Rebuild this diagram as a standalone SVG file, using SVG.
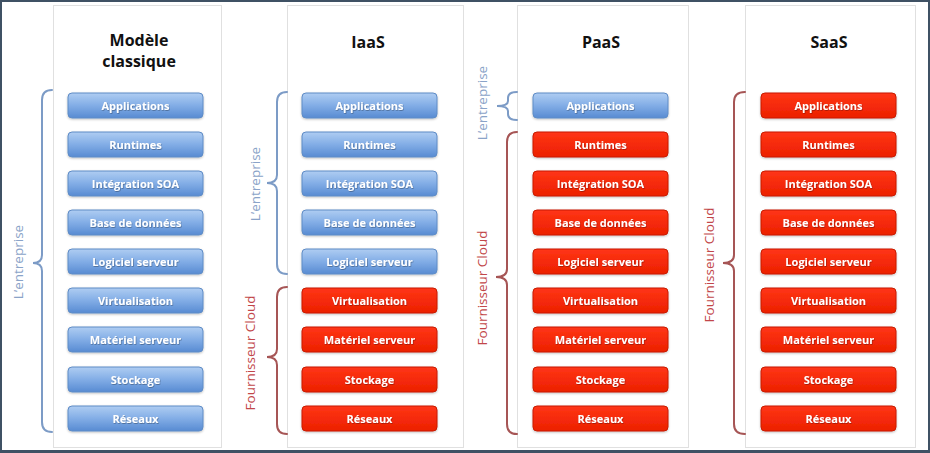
<svg xmlns="http://www.w3.org/2000/svg" width="930" height="453" viewBox="0 0 930 453">
<defs>
<linearGradient id="gBlue" x1="0" y1="0" x2="0" y2="1">
<stop offset="0" stop-color="#afcdf2"/>
<stop offset="0.5" stop-color="#82ade6"/>
<stop offset="1" stop-color="#588bd2"/>
</linearGradient>
<linearGradient id="gRed" x1="0" y1="0" x2="0" y2="1">
<stop offset="0" stop-color="#ff3516"/>
<stop offset="1" stop-color="#ec2000"/>
</linearGradient>
<filter id="ts" x="-10%" y="-30%" width="120%" height="160%">
<feDropShadow dx="0.6" dy="0.8" stdDeviation="0.5" flood-color="#000" flood-opacity="0.35"/>
</filter>
<filter id="bs" x="-5%" y="-20%" width="110%" height="150%">
<feDropShadow dx="0" dy="1" stdDeviation="0.8" flood-color="#000" flood-opacity="0.25"/>
</filter>
</defs>
<style>
.panel{fill:#ffffff;stroke:#e0e0e0;stroke-width:1}
.blue{fill:url(#gBlue);stroke:#5f8cc6;stroke-width:1;filter:url(#bs)}
.red{fill:url(#gRed);stroke:#c81c00;stroke-width:1;filter:url(#bs)}
.lbl{font-family:"Open Sans","Liberation Sans",sans-serif;font-weight:700;font-size:11px;fill:#ffffff;text-anchor:middle;filter:url(#ts)}
.title{font-family:"Open Sans","Liberation Sans",sans-serif;font-weight:700;font-size:16px;fill:#111111;text-anchor:middle}
.bb{fill:none;stroke:#7c9bc6;stroke-width:2;stroke-linecap:round}
.rb{fill:none;stroke:#a65555;stroke-width:2;stroke-linecap:round}
.ent{font-family:"Open Sans","Liberation Sans",sans-serif;font-size:13.5px;fill:#8aa3c8;text-anchor:middle}
.four{font-family:"Open Sans","Liberation Sans",sans-serif;font-size:13.5px;fill:#c2474a;text-anchor:middle}
</style>
<rect x="0" y="0" width="930" height="453" fill="#ffffff"/>
<g id="panels">
<rect class="panel" x="53.5" y="5.5" width="168" height="442"/>
<rect class="panel" x="287.5" y="5.5" width="176" height="442"/>
<rect class="panel" x="517.5" y="5.5" width="171" height="442"/>
<rect class="panel" x="745.5" y="5.5" width="170" height="442"/>
</g>
<g id="titles">
<text class="title" x="139" y="46">Modèle</text>
<text class="title" x="139" y="67">classique</text>
<text class="title" x="368" y="48">IaaS</text>
<text class="title" x="601" y="48">PaaS</text>
<text class="title" x="829" y="48">SaaS</text>
</g>
<g id="connectors">
<path class="bb" d="M52,90 Q42,90 42,100 L42,255 Q42,263 33,263 Q42,263 42,271 L42,422 Q42,432 52,432"/>
<path class="bb" d="M287,92 Q277,92 277,102 L277,175 Q277,183 267,183 Q277,183 277,191 L277,264 Q277,274 287,274"/>
<path class="rb" d="M287,287 Q277,287 277,297 L277,349 Q277,357 267,357 Q277,357 277,365 L277,424 Q277,434 287,434"/>
<path class="bb" d="M517,92 Q508,92 508,98 L508,101 Q508,106 497,106 Q508,106 508,111 L508,114 Q508,120 517,120"/>
<path class="rb" d="M517,132 Q507,132 507,142 L507,269 Q507,277 496,277 Q507,277 507,285 L507,424 Q507,434 517,434"/>
<path class="rb" d="M745,92 Q734,92 734,102 L734,255 Q734,263 723,263 Q734,263 734,271 L734,424 Q734,434 745,434"/>
</g>
<g id="brace-labels">
<text class="ent" transform="translate(23,262) rotate(-90)">L’entreprise</text>
<text class="ent" transform="translate(260,184) rotate(-90)">L’entreprise</text>
<text class="four" transform="translate(255,353) rotate(-90)">Fournisseur Cloud</text>
<text class="ent" transform="translate(487,103) rotate(-90)">L’entreprise</text>
<text class="four" transform="translate(487,288) rotate(-90)">Fournisseur Cloud</text>
<text class="four" transform="translate(714,265) rotate(-90)">Fournisseur Cloud</text>
</g>
<g id="col-classique">
<g id="c1-applications"><rect class="blue" x="68" y="93" width="135" height="25" rx="4"/><text class="lbl" x="135.5" y="109.5">Applications</text></g>
<g id="c1-runtimes"><rect class="blue" x="68" y="132" width="135" height="25" rx="4"/><text class="lbl" x="135.5" y="148.5">Runtimes</text></g>
<g id="c1-soa"><rect class="blue" x="68" y="171" width="135" height="25" rx="4"/><text class="lbl" x="135.5" y="187.5">Intégration SOA</text></g>
<g id="c1-bdd"><rect class="blue" x="68" y="210" width="135" height="25" rx="4"/><text class="lbl" x="135.5" y="226.5">Base de données</text></g>
<g id="c1-logiciel"><rect class="blue" x="68" y="249" width="135" height="25" rx="4"/><text class="lbl" x="135.5" y="265.5">Logiciel serveur</text></g>
<g id="c1-virtualisation"><rect class="blue" x="68" y="288" width="135" height="25" rx="4"/><text class="lbl" x="135.5" y="304.5">Virtualisation</text></g>
<g id="c1-materiel"><rect class="blue" x="68" y="327" width="135" height="25" rx="4"/><text class="lbl" x="135.5" y="343.5">Matériel serveur</text></g>
<g id="c1-stockage"><rect class="blue" x="68" y="367" width="135" height="25" rx="4"/><text class="lbl" x="135.5" y="383.5">Stockage</text></g>
<g id="c1-reseaux"><rect class="blue" x="68" y="406" width="135" height="25" rx="4"/><text class="lbl" x="135.5" y="422.5">Réseaux</text></g>
</g>
<g id="col-iaas">
<g id="c2-applications"><rect class="blue" x="302" y="93" width="135" height="25" rx="4"/><text class="lbl" x="369.5" y="109.5">Applications</text></g>
<g id="c2-runtimes"><rect class="blue" x="302" y="132" width="135" height="25" rx="4"/><text class="lbl" x="369.5" y="148.5">Runtimes</text></g>
<g id="c2-soa"><rect class="blue" x="302" y="171" width="135" height="25" rx="4"/><text class="lbl" x="369.5" y="187.5">Intégration SOA</text></g>
<g id="c2-bdd"><rect class="blue" x="302" y="210" width="135" height="25" rx="4"/><text class="lbl" x="369.5" y="226.5">Base de données</text></g>
<g id="c2-logiciel"><rect class="blue" x="302" y="249" width="135" height="25" rx="4"/><text class="lbl" x="369.5" y="265.5">Logiciel serveur</text></g>
<g id="c2-virtualisation"><rect class="red" x="302" y="288" width="135" height="25" rx="4"/><text class="lbl" x="369.5" y="304.5">Virtualisation</text></g>
<g id="c2-materiel"><rect class="red" x="302" y="327" width="135" height="25" rx="4"/><text class="lbl" x="369.5" y="343.5">Matériel serveur</text></g>
<g id="c2-stockage"><rect class="red" x="302" y="367" width="135" height="25" rx="4"/><text class="lbl" x="369.5" y="383.5">Stockage</text></g>
<g id="c2-reseaux"><rect class="red" x="302" y="406" width="135" height="25" rx="4"/><text class="lbl" x="369.5" y="422.5">Réseaux</text></g>
</g>
<g id="col-paas">
<g id="c3-applications"><rect class="blue" x="533" y="93" width="135" height="25" rx="4"/><text class="lbl" x="600.5" y="109.5">Applications</text></g>
<g id="c3-runtimes"><rect class="red" x="533" y="132" width="135" height="25" rx="4"/><text class="lbl" x="600.5" y="148.5">Runtimes</text></g>
<g id="c3-soa"><rect class="red" x="533" y="171" width="135" height="25" rx="4"/><text class="lbl" x="600.5" y="187.5">Intégration SOA</text></g>
<g id="c3-bdd"><rect class="red" x="533" y="210" width="135" height="25" rx="4"/><text class="lbl" x="600.5" y="226.5">Base de données</text></g>
<g id="c3-logiciel"><rect class="red" x="533" y="249" width="135" height="25" rx="4"/><text class="lbl" x="600.5" y="265.5">Logiciel serveur</text></g>
<g id="c3-virtualisation"><rect class="red" x="533" y="288" width="135" height="25" rx="4"/><text class="lbl" x="600.5" y="304.5">Virtualisation</text></g>
<g id="c3-materiel"><rect class="red" x="533" y="327" width="135" height="25" rx="4"/><text class="lbl" x="600.5" y="343.5">Matériel serveur</text></g>
<g id="c3-stockage"><rect class="red" x="533" y="367" width="135" height="25" rx="4"/><text class="lbl" x="600.5" y="383.5">Stockage</text></g>
<g id="c3-reseaux"><rect class="red" x="533" y="406" width="135" height="25" rx="4"/><text class="lbl" x="600.5" y="422.5">Réseaux</text></g>
</g>
<g id="col-saas">
<g id="c4-applications"><rect class="red" x="761" y="93" width="135" height="25" rx="4"/><text class="lbl" x="828.5" y="109.5">Applications</text></g>
<g id="c4-runtimes"><rect class="red" x="761" y="132" width="135" height="25" rx="4"/><text class="lbl" x="828.5" y="148.5">Runtimes</text></g>
<g id="c4-soa"><rect class="red" x="761" y="171" width="135" height="25" rx="4"/><text class="lbl" x="828.5" y="187.5">Intégration SOA</text></g>
<g id="c4-bdd"><rect class="red" x="761" y="210" width="135" height="25" rx="4"/><text class="lbl" x="828.5" y="226.5">Base de données</text></g>
<g id="c4-logiciel"><rect class="red" x="761" y="249" width="135" height="25" rx="4"/><text class="lbl" x="828.5" y="265.5">Logiciel serveur</text></g>
<g id="c4-virtualisation"><rect class="red" x="761" y="288" width="135" height="25" rx="4"/><text class="lbl" x="828.5" y="304.5">Virtualisation</text></g>
<g id="c4-materiel"><rect class="red" x="761" y="327" width="135" height="25" rx="4"/><text class="lbl" x="828.5" y="343.5">Matériel serveur</text></g>
<g id="c4-stockage"><rect class="red" x="761" y="367" width="135" height="25" rx="4"/><text class="lbl" x="828.5" y="383.5">Stockage</text></g>
<g id="c4-reseaux"><rect class="red" x="761" y="406" width="135" height="25" rx="4"/><text class="lbl" x="828.5" y="422.5">Réseaux</text></g>
</g>
<rect id="frame" x="1" y="1" width="928" height="450" fill="none" stroke="#3f5164" stroke-width="2"/>
<line x1="0" y1="451.5" x2="930" y2="451.5" stroke="#3f5164" stroke-width="3"/>
</svg>
